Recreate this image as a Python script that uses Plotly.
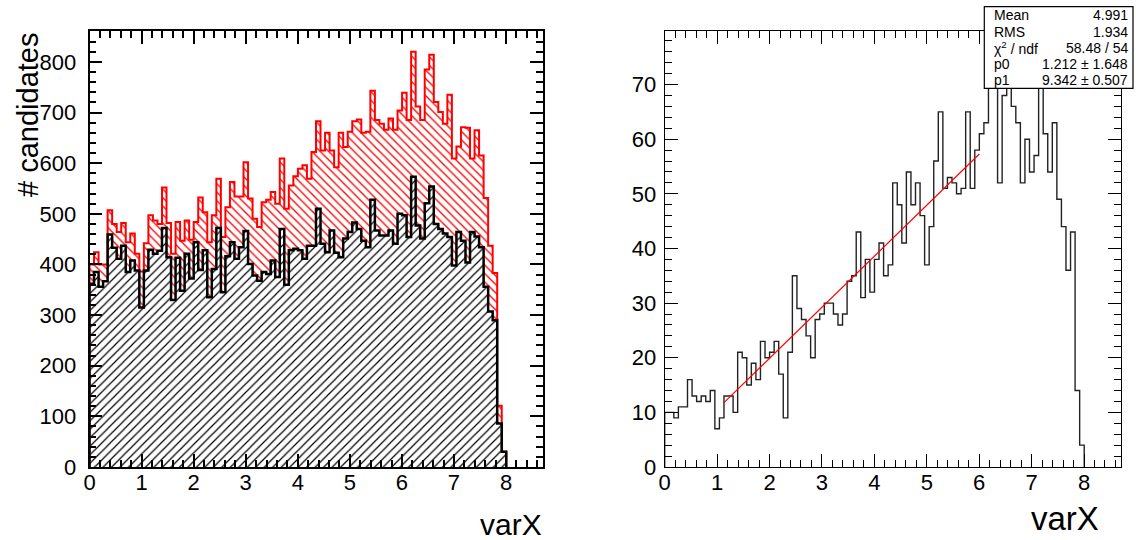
import numpy as np
import plotly.graph_objects as go

# ---------------- data ----------------
NBINS = 100
XMIN, XMAX = 0.0, 8.7

# left panel: total (red) and selected subset (black), first 92 bins (rest empty)
red_total = [400, 424, 400, 400, 507, 480, 464, 482, 444, 461,
             421, 386, 442, 497, 487, 480, 552, 482, 421, 484,
             447, 487, 449, 484, 532, 503, 444, 497, 569, 454,
             513, 563, 534, 534, 602, 530, 490, 474, 523, 528,
             543, 520, 609, 510, 556, 574, 589, 596, 569, 622,
             683, 625, 660, 625, 592, 660, 632, 662, 683, 686,
             660, 662, 743, 685, 678, 666, 688, 666, 704, 739,
             685, 820, 712, 685, 785, 814, 721, 701, 678, 735,
             609, 633, 671, 670, 609, 665, 615, 531, 437, 383,
             121, 30]
black_sel = [362, 385, 356, 367, 459, 433, 411, 437, 385, 408,
             388, 315, 388, 429, 421, 427, 472, 414, 330, 413,
             348, 421, 372, 444, 389, 428, 335, 391, 472, 345,
             416, 444, 411, 434, 466, 401, 378, 368, 385, 381,
             408, 375, 470, 360, 428, 431, 428, 411, 437, 437,
             510, 441, 424, 467, 423, 414, 451, 464, 483, 470,
             447, 434, 528, 467, 457, 457, 467, 441, 500, 497,
             454, 573, 477, 451, 521, 554, 480, 470, 461, 454,
             398, 464, 447, 404, 464, 455, 434, 356, 307, 290,
             86, 30]

# right panel: single histogram with linear fit
right_counts = [10, 10, 9, 11, 11, 16, 13, 12, 13, 12,
                14, 7, 9, 13, 13, 10, 21, 20, 15, 19,
                16, 23, 20, 21, 23, 17, 9, 21, 35, 29,
                27, 24, 20, 27, 28, 30, 30, 28, 26, 28,
                34, 35, 43, 31, 38, 32, 38, 41, 35, 37,
                52, 48, 41, 54, 48, 52, 46, 37, 44, 56,
                65, 51, 53, 52, 50, 51, 65, 51, 58, 61,
                63, 74, 76, 52, 68, 72, 66, 63, 52, 60,
                54, 57, 75, 61, 54, 63, 49, 44, 36, 43,
                14, 4]
fit_p0, fit_p1 = 1.212, 9.342
fit_xmin, fit_xmax = 1.131, 6.003

stat_labels = ["Mean", "RMS", "χ<sup>2</sup> / ndf", "p0", "p1"]
stat_values = ["4.991", "1.934", "58.48 / 54", "1.212 ± 1.648", "9.342 ± 0.507"]

left_ymax = 861
right_ymax = 79.8

# ---------------- helpers ----------------
edges = np.linspace(XMIN, XMAX, NBINS + 1)
bw = edges[1] - edges[0]


def centers(vals):
    n = len(vals)
    return edges[:n] + bw / 2


def step_xy(vals):
    n = len(vals)
    xs = [edges[0]] + list(edges[:n]) + [edges[n]]
    ys = [0] + list(vals) + [0]
    return xs, ys


FONT = "Liberation Sans"
W, H = 1136, 540

fig = go.Figure()

red_arr = np.array(red_total)
blk_arr = np.array(black_sel)

fig.add_trace(go.Bar(
    x=centers(black_sel), y=blk_arr, width=bw,
    marker=dict(color="black", line=dict(width=0),
                pattern=dict(shape="/", size=6, solidity=0.2, fillmode="replace")),
    xaxis="x", yaxis="y", showlegend=False, hoverinfo="skip"))
fig.add_trace(go.Bar(
    x=centers(red_total), y=red_arr - blk_arr, base=blk_arr, width=bw,
    marker=dict(color="#ff0000", line=dict(width=0),
                pattern=dict(shape="\\", size=6, solidity=0.22, fillmode="replace")),
    xaxis="x", yaxis="y", showlegend=False, hoverinfo="skip"))

rx, ry = step_xy(red_total)
fig.add_trace(go.Scatter(x=rx, y=ry, mode="lines", line=dict(color="#ff0000", width=2, shape="hv"),
                         xaxis="x", yaxis="y", showlegend=False, hoverinfo="skip"))
bx, by = step_xy(black_sel)
fig.add_trace(go.Scatter(x=bx, y=by, mode="lines", line=dict(color="black", width=2.5, shape="hv"),
                         xaxis="x", yaxis="y", showlegend=False, hoverinfo="skip"))

hx, hy = step_xy(right_counts)
fig.add_trace(go.Scatter(x=hx, y=hy, mode="lines", line=dict(color="#222222", width=1.4, shape="hv"),
                         xaxis="x2", yaxis="y2", showlegend=False, hoverinfo="skip"))
fx = np.linspace(fit_xmin, fit_xmax, 50)
fig.add_trace(go.Scatter(x=fx, y=fit_p0 + fit_p1 * fx, mode="lines",
                         line=dict(color="#ff0000", width=1.2),
                         xaxis="x2", yaxis="y2", showlegend=False, hoverinfo="skip"))

tickfont = dict(family=FONT, size=22, color="black")


def xax(domain, lw):
    return dict(domain=domain, range=[XMIN, XMAX], tick0=0, dtick=1,
                ticks="inside", ticklen=13, tickwidth=lw, tickcolor="black",
                minor=dict(dtick=0.2, ticks="inside", ticklen=7, tickwidth=lw, tickcolor="black"),
                showline=True, linewidth=lw, linecolor="black", mirror="allticks",
                showgrid=False, zeroline=False, tickfont=tickfont, ticklabelstandoff=-5,
                automargin=False, fixedrange=True)


def yax(domain, rng, dt, mdt, lw, anchor, standoff):
    return dict(domain=domain, range=[0, rng], tick0=0, dtick=dt, anchor=anchor,
                ticks="inside", ticklen=13, tickwidth=lw, tickcolor="black",
                minor=dict(dtick=mdt, ticks="inside", ticklen=7, tickwidth=lw, tickcolor="black"),
                showline=True, linewidth=lw, linecolor="black", mirror="allticks",
                showgrid=False, zeroline=False, tickfont=tickfont, ticklabelstandoff=standoff,
                automargin=False, fixedrange=True)


ydom = [73 / H, 509 / H]
fig.update_layout(
    width=W, height=H,
    margin=dict(l=0, r=0, t=0, b=0, autoexpand=False),
    paper_bgcolor="white", plot_bgcolor="white",
    barmode="overlay", bargap=0,
    xaxis=dict(**xax([89.5 / W, 542.5 / W], 1.8), anchor="y"),
    yaxis=yax(ydom, left_ymax, 100, 20, 1.8, "x", 7),
    xaxis2=dict(**xax([664.7 / W, 1120.7 / W], 1.2), anchor="y2"),
    yaxis2=yax(ydom, right_ymax, 10, 2, 1.2, "x2", 3),
    font=dict(family=FONT, color="black"),
)

annotations = [
    dict(text="# candidates", x=28 / W, y=(H - 31) / H, xref="paper", yref="paper",
         xanchor="center", yanchor="top", textangle=-90, showarrow=False,
         font=dict(family=FONT, size=29, color="black")),
    dict(text="varX", x=544 / W, y=(H - 524) / H, xref="paper", yref="paper",
         xanchor="right", yanchor="middle", showarrow=False,
         font=dict(family=FONT, size=30, color="black")),
    dict(text="varX", x=1101 / W, y=(H - 518) / H, xref="paper", yref="paper",
         xanchor="right", yanchor="middle", showarrow=False,
         font=dict(family=FONT, size=33, color="black")),
]

bx0, bx1, by0, by1 = 984.3, 1133.0, 6.7, 88.3
shapes = [dict(type="rect", xref="paper", yref="paper",
               x0=bx0 / W, x1=bx1 / W, y0=(H - by1) / H, y1=(H - by0) / H,
               fillcolor="white", line=dict(color="black", width=1.2), layer="above")]
row_y = [15.5, 32, 48, 64, 80]
for lab, val, ry_ in zip(stat_labels, stat_values, row_y):
    annotations.append(dict(text=lab, x=991.5 / W, y=(H - ry_) / H, xref="paper", yref="paper",
                            xanchor="left", yanchor="middle", showarrow=False,
                            font=dict(family=FONT, size=14, color="black")))
    annotations.append(dict(text=val, x=1129.5 / W, y=(H - ry_) / H, xref="paper", yref="paper",
                            xanchor="right", yanchor="middle", showarrow=False,
                            font=dict(family=FONT, size=14, color="black")))

fig.update_layout(annotations=annotations, shapes=shapes)

fig.write_html("out.html")
